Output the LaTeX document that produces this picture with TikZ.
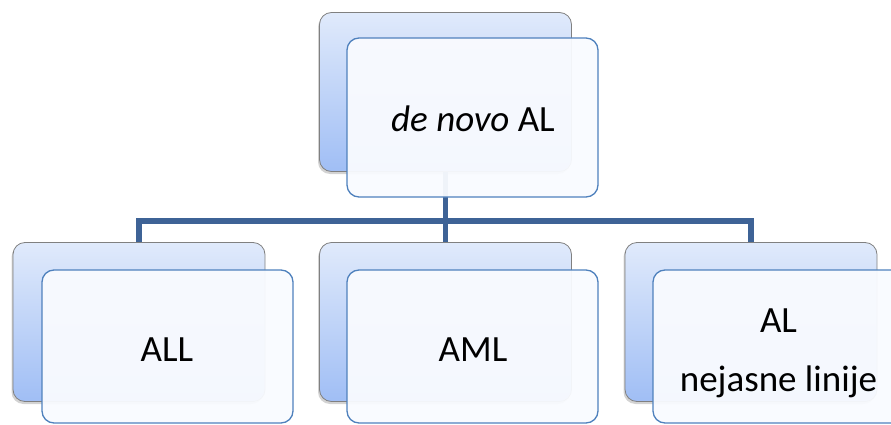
\documentclass[tikz,border=0pt]{standalone}
\usepackage{fontspec}
\setmainfont{Carlito}
\usetikzlibrary{shadows}
\definecolor{backtop}{RGB}{224,234,251}
\definecolor{backbot}{RGB}{160,190,245}
\definecolor{frontfill}{RGB}{249,251,255}
\definecolor{frontline}{RGB}{79,129,189}
\definecolor{linkcol}{RGB}{62,99,150}
\tikzset{
  backbox/.style={draw=gray,line width=.8pt,rounded corners=12pt,top color=backtop,bottom color=backbot,
    minimum width=252pt,minimum height=159pt,inner sep=0pt,drop shadow={shadow xshift=-1.5pt,shadow yshift=-2.5pt,opacity=.35}},
  frontbox/.style={draw=frontline,line width=1.3pt,rounded corners=12pt,fill=frontfill,fill opacity=.95,
    minimum width=251pt,inner sep=0pt},
  boxtext/.style={align=center,inner sep=0pt,font=\fontsize{37}{59}\selectfont},
  link/.style={draw=linkcol,line width=5.5pt}
}

\begin{document}
\begin{tikzpicture}[x=1pt,y=-1pt]
\useasboundingbox(0,0)rectangle(891,425);
\node[backbox](b0)at(445.5,92){};
\node[backbox](b1)at(139,322){};\node[backbox](b2)at(445.5,322){};\node[backbox](b3)at(751,322){};
\coordinate(j)at(445.5,221);
\draw[link](b0.south)--(j);\draw[link](b1.north)|-(j);\draw[link](b3.north)|-(j);\draw[link](j)--(b2.north);
\node[frontbox,minimum height=159pt](f0)at(472.5,117.5){};\node[boxtext](t0)at(473,119){\textit{de novo} AL};
\node[frontbox,minimum height=153pt](f1)at(167.5,346.5){};\node[boxtext](t1)at(167,350){ALL};
\node[frontbox,minimum height=153pt](f2)at(472.5,346.5){};\node[boxtext](t2)at(473,350){AML};
\node[frontbox,minimum height=153pt](f3)at(778.5,346.5){};\node[boxtext](t3)at(778.5,353){AL\\nejasne linije};
\end{tikzpicture}
\end{document}
